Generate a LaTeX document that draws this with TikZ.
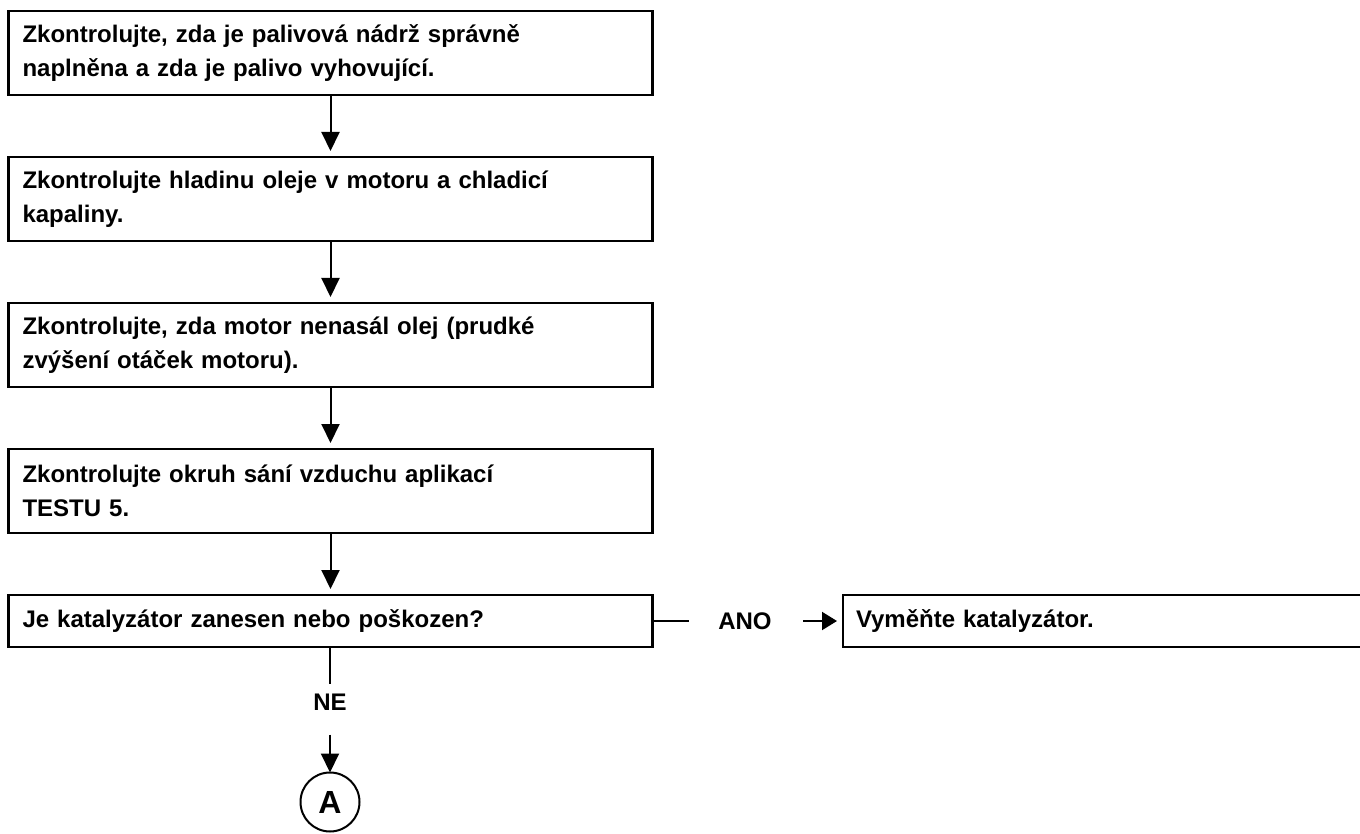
\documentclass[tikz,border=0pt]{standalone}
\usepackage{fontspec}
\setmainfont{Liberation Sans}
\usetikzlibrary{arrows.meta}
\begin{document}
\begin{tikzpicture}[x=0.5pt,y=-0.5pt,
  txt/.style={font=\bfseries\fontsize{12pt}{17pt}\selectfont},
  stepbox/.style={txt, draw, line width=1.4pt, outer sep=0pt, anchor=north west,
    align=left, inner xsep=7pt, inner ysep=0pt, text width=308pt,
    minimum height=42pt},
  label/.style={txt, inner sep=0pt, outer sep=0pt},
  flow/.style={line width=1pt, -{Triangle[width=9pt,length=9.5pt]}},
  plain/.style={line width=1pt},
  conn/.style={circle, draw, line width=1pt, minimum size=29.5pt, inner sep=0pt,
    outer sep=0pt, font=\bfseries\fontsize{16pt}{18pt}\selectfont}]
  \fill[white] (0,0) rectangle (1360,834);
  \useasboundingbox (0,0) rectangle (1360,834);

  % main sequence of checks
  \node[stepbox] (b1) at (8.5,11)
    {Zkontrolujte, zda je palivová nádrž správně\\naplněna a zda je palivo vyhovující.};
  \node[stepbox] (b2) at (8.5,157)
    {Zkontrolujte hladinu oleje v motoru a chladicí\\kapaliny.};
  \node[stepbox] (b3) at (8.5,303)
    {Zkontrolujte, zda motor nenasál olej (prudké\\zvýšení otáček motoru).};
  \node[stepbox] (b4) at (8.5,449)
    {Zkontrolujte okruh sání vzduchu aplikací\\TESTU 5.};
  \node[stepbox, minimum height=26pt] (b5) at (8.5,595)
    {Je katalyzátor zanesen nebo poškozen?};

  % answer branches
  \node[stepbox, minimum height=26pt, text width=248pt, inner xsep=6.5pt] (b6) at (843,595)
    {Vyměňte katalyzátor.};
  \node[label] (ano) at (745,621) {ANO};
  \node[label] (ne) at (330,702) {NE};
  \node[conn] (A) at (330,802) {A};

  % connectors
  \draw[flow, shorten >=3pt] (b1.south) -- (b2.north);
  \draw[flow, shorten >=3pt] (b2.south) -- (b3.north);
  \draw[flow, shorten >=3pt] (b3.south) -- (b4.north);
  \draw[flow, shorten >=3pt] (b4.south) -- (b5.north);
  \draw[plain, shorten >=4.7pt] (b5.south -| ne) -- (ne.north);
  \draw[flow, shorten <=12.2pt] (ne.south) -- (A.north);
  \draw[plain, shorten >=14.75pt] (b5.east) -- (ano.west);
  \draw[line width=1pt, -{Triangle[width=9pt,length=7.5pt]},
        shorten <=15.75pt, shorten >=3pt] (ano.east) -- (b6.west);
\end{tikzpicture}
\end{document}
